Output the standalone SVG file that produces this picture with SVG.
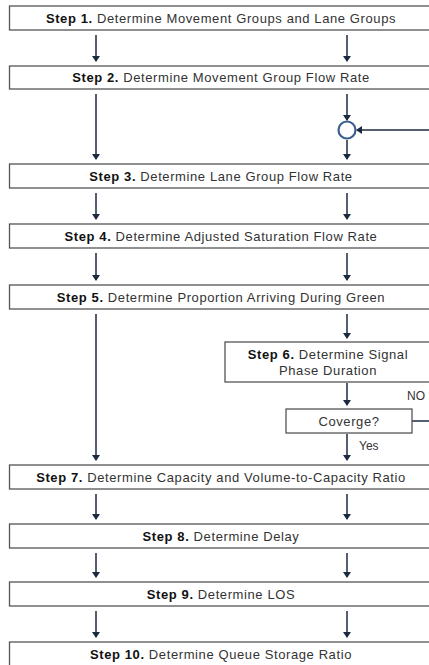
<svg xmlns="http://www.w3.org/2000/svg" width="429" height="665" viewBox="0 0 429 665">
<defs>
<marker id="ah" markerWidth="6" markerHeight="8" refX="5" refY="4" orient="auto" markerUnits="userSpaceOnUse">
<path d="M0,0 L6,4 L0,8 z" fill="#1c2a40"/>
</marker>
<style>
.box{fill:#fff;stroke:#555;stroke-width:1.3}
.t{font-family:"Liberation Sans",Arial,sans-serif;font-size:13px;fill:#333;text-anchor:middle;letter-spacing:0.6px}
.b{font-weight:bold;fill:#111}
.ln{stroke:#1c2a40;stroke-width:1.5;fill:none}
.lb{font-family:"Liberation Sans",Arial,sans-serif;font-size:12px;fill:#333}
</style>
</defs>
<rect width="429" height="665" fill="#fff"/>
<g id="connectors">
<line class="ln" x1="96" y1="35" x2="96" y2="61" marker-end="url(#ah)"/>
<line class="ln" x1="347" y1="35" x2="347" y2="61" marker-end="url(#ah)"/>
<line class="ln" x1="96" y1="94" x2="96" y2="159" marker-end="url(#ah)"/>
<line class="ln" x1="347" y1="94" x2="347" y2="120" marker-end="url(#ah)"/>
<line class="ln" x1="347" y1="140" x2="347" y2="159" marker-end="url(#ah)"/>
<line class="ln" x1="432" y1="130" x2="357" y2="130" marker-end="url(#ah)"/>
<line class="ln" x1="96" y1="193" x2="96" y2="219" marker-end="url(#ah)"/>
<line class="ln" x1="347" y1="193" x2="347" y2="219" marker-end="url(#ah)"/>
<line class="ln" x1="96" y1="253" x2="96" y2="280" marker-end="url(#ah)"/>
<line class="ln" x1="347" y1="253" x2="347" y2="280" marker-end="url(#ah)"/>
<line class="ln" x1="96" y1="314" x2="96" y2="460" marker-end="url(#ah)"/>
<line class="ln" x1="347" y1="314" x2="347" y2="338" marker-end="url(#ah)"/>
<line class="ln" x1="347" y1="383" x2="347" y2="405" marker-end="url(#ah)"/>
<line class="ln" x1="347" y1="434" x2="347" y2="460" marker-end="url(#ah)"/>
<line class="ln" x1="412" y1="421" x2="432" y2="421"/>
<line class="ln" x1="96" y1="494" x2="96" y2="519" marker-end="url(#ah)"/>
<line class="ln" x1="347" y1="494" x2="347" y2="519" marker-end="url(#ah)"/>
<line class="ln" x1="96" y1="553" x2="96" y2="577" marker-end="url(#ah)"/>
<line class="ln" x1="347" y1="553" x2="347" y2="577" marker-end="url(#ah)"/>
<line class="ln" x1="96" y1="611" x2="96" y2="637" marker-end="url(#ah)"/>
<line class="ln" x1="347" y1="611" x2="347" y2="637" marker-end="url(#ah)"/>
<text class="lb" x="407" y="400">NO</text>
<text class="lb" x="359" y="450">Yes</text>
</g>
<g id="merge"><circle cx="347" cy="130" r="8.5" fill="#fff" stroke="#3b5f8f" stroke-width="2.2"/></g>
<g id="step1"><rect class="box" x="9.5" y="6" width="430" height="24"/><text class="t" x="221" y="22.5"><tspan class="b">Step 1.</tspan> Determine Movement Groups and Lane Groups</text></g>
<g id="step2"><rect class="box" x="9.5" y="66" width="430" height="23"/><text class="t" x="221" y="82"><tspan class="b">Step 2.</tspan> Determine Movement Group Flow Rate</text></g>
<g id="step3"><rect class="box" x="9.5" y="164" width="430" height="24"/><text class="t" x="221" y="180.5"><tspan class="b">Step 3.</tspan> Determine Lane Group Flow Rate</text></g>
<g id="step4"><rect class="box" x="9.5" y="224" width="430" height="24"/><text class="t" x="221" y="240.5"><tspan class="b">Step 4.</tspan> Determine Adjusted Saturation Flow Rate</text></g>
<g id="step5"><rect class="box" x="9.5" y="285" width="430" height="24"/><text class="t" x="221" y="301.5"><tspan class="b">Step 5.</tspan> Determine Proportion Arriving During Green</text></g>
<g id="step6"><rect class="box" x="225" y="342" width="215" height="40"/><text class="t" x="328" y="358.5"><tspan class="b">Step 6.</tspan> Determine Signal</text><text class="t" x="328" y="375">Phase Duration</text></g>
<g id="converge"><rect class="box" x="286" y="409" width="126" height="24"/><text class="t" x="349" y="425.5">Coverge?</text></g>
<g id="step7"><rect class="box" x="9.5" y="465" width="430" height="24"/><text class="t" x="221" y="481.5"><tspan class="b">Step 7.</tspan> Determine Capacity and Volume-to-Capacity Ratio</text></g>
<g id="step8"><rect class="box" x="9.5" y="524" width="430" height="24"/><text class="t" x="221" y="540.5"><tspan class="b">Step 8.</tspan> Determine Delay</text></g>
<g id="step9"><rect class="box" x="9.5" y="582" width="430" height="24"/><text class="t" x="221" y="598.5"><tspan class="b">Step 9.</tspan> Determine LOS</text></g>
<g id="step10"><rect class="box" x="9.5" y="642" width="430" height="30"/><text class="t" x="221" y="658.5"><tspan class="b">Step 10.</tspan> Determine Queue Storage Ratio</text></g>
</svg>
